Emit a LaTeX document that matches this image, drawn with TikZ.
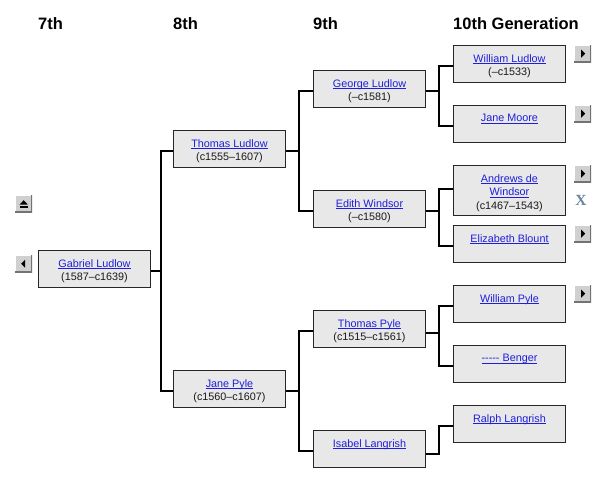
\documentclass[tikz,border=0pt]{standalone}
\usepackage{fontspec}
\setmainfont{Liberation Sans}
\newfontfamily\serifx{Liberation Serif}
\definecolor{linkblue}{RGB}{30,30,220}
\definecolor{boxfill}{RGB}{232,232,232}
\definecolor{btnfill}{RGB}{208,208,208}
\definecolor{xcol}{RGB}{104,132,160}
\newcommand\lnk[1]{{\color{linkblue}\setbox0\hbox{#1}\rlap{\rule[-1.5pt]{\wd0}{0.6pt}}\box0}}
\newcommand\person[5]{%
  \node[pbox, minimum height=#4pt] (#1) at (#2,#3) {};
  \node[ptext] (#1t) at ([yshift=-9pt]#1.north) {#5};}
\tikzset{
  pbox/.style={draw=black!85, line width=1pt, fill=boxfill, minimum width=112pt, anchor=north west, inner sep=0pt},
  ptext/.style={anchor=north, inner sep=0pt, align=center, font=\fontsize{10.8}{13.8}\selectfont, text=black!90},
  conn/.style={line width=2pt, black},
  hdr/.style={anchor=base west, inner sep=0pt, font=\fontsize{16.5}{18}\selectfont\bfseries},
  btnbase/.style={minimum size=17pt, inner sep=0pt, anchor=north west, fill=btnfill},
  btnR/.style={btnbase, path picture={
     \coordinate (c) at (path picture bounding box.center);
     \draw[white,line width=2pt] (path picture bounding box.south west) -- (path picture bounding box.north west) -- (path picture bounding box.north east);
     \draw[black!55,line width=2pt] (path picture bounding box.north east) -- (path picture bounding box.south east) -- (path picture bounding box.south west);
     \fill[black] ([shift={(-1.5,-4)}]c) -- ([shift={(-1.5,4)}]c) -- ([shift={(2.5,0)}]c) -- cycle;}},
  btnL/.style={btnbase, path picture={
     \coordinate (c) at (path picture bounding box.center);
     \draw[white,line width=2pt] (path picture bounding box.south west) -- (path picture bounding box.north west) -- (path picture bounding box.north east);
     \draw[black!55,line width=2pt] (path picture bounding box.north east) -- (path picture bounding box.south east) -- (path picture bounding box.south west);
     \fill[black] ([shift={(1.5,-4)}]c) -- ([shift={(1.5,4)}]c) -- ([shift={(-2.5,0)}]c) -- cycle;}},
  btnU/.style={btnbase, path picture={
     \coordinate (c) at (path picture bounding box.center);
     \draw[white,line width=2pt] (path picture bounding box.south west) -- (path picture bounding box.north west) -- (path picture bounding box.north east);
     \draw[black!55,line width=2pt] (path picture bounding box.north east) -- (path picture bounding box.south east) -- (path picture bounding box.south west);
     \fill[black] ([shift={(0,-3.5)}]c) -- ([shift={(4,0.8)}]c) -- ([shift={(-4,0.8)}]c) -- cycle;
     \fill[black] ([shift={(-4,2.2)}]c) rectangle ([shift={(4,4.2)}]c);}},
}
\begin{document}
\begin{tikzpicture}[x=1pt,y=-1pt]
\useasboundingbox (0,0) rectangle (611,482);
\fill[white] (0,0) rectangle (611,482);

% headers
\node[hdr] (h7) at (38,29) {7th};
\node[hdr] (h8) at (173,29) {8th};
\node[hdr] (h9) at (313,29) {9th};
\node[hdr] (h10) at (453,29) {10th Generation};

% people
\person{gab}{38}{250}{37}{\lnk{Gabriel Ludlow}\\(1587–c1639)}
\person{tl}{173}{130}{37}{\lnk{Thomas Ludlow}\\(c1555–1607)}
\person{jp}{173}{370}{37}{\lnk{Jane Pyle}\\(c1560–c1607)}
\person{gl}{313}{70}{37}{\lnk{George Ludlow}\\(–c1581)}
\person{ew}{313}{190}{37}{\lnk{Edith Windsor}\\(–c1580)}
\person{tp}{313}{310}{37}{\lnk{Thomas Pyle}\\(c1515–c1561)}
\person{il}{313}{430}{37}{\lnk{Isabel Langrish}}
\person{wl}{453}{45}{37}{\lnk{William Ludlow}\\(–c1533)}
\person{jm}{453}{105}{37}{\lnk{Jane Moore}}
\person{ad}{453}{165}{50}{\lnk{Andrews de}\\\lnk{Windsor}\\(c1467–1543)}
\person{eb}{453}{225}{37}{\lnk{Elizabeth Blount}}
\person{wp}{453}{285}{37}{\lnk{William Pyle}}
\person{bg}{453}{345}{37}{\lnk{\mbox{-}\mbox{-}\mbox{-}\mbox{-}\mbox{-} Benger}}
\person{rl}{453}{405}{37}{\lnk{Ralph Langrish}}

% connectors
\draw[conn] ([yshift=-1.5pt]gab.east) -- ++(10,0) |- ([yshift=-1.5pt]tl.west);
\draw[conn] ([yshift=-1.5pt]gab.east) -- ++(10,0) |- ([yshift=-1.5pt]jp.west);
\draw[conn] ([yshift=-1.5pt]tl.east) -- ++(13,0) |- ([yshift=-1.5pt]gl.west);
\draw[conn] ([yshift=-1.5pt]tl.east) -- ++(13,0) |- ([yshift=-1.5pt]ew.west);
\draw[conn] ([yshift=-1.5pt]jp.east) -- ++(13,0) |- ([yshift=-1.5pt]tp.west);
\draw[conn] ([yshift=-1.5pt]jp.east) -- ++(13,0) |- ([yshift=-1.5pt]il.west);
\draw[conn] ([yshift=-1.5pt]gl.east) -- ++(13,0) |- ([yshift=-1.5pt]wl.west);
\draw[conn] ([yshift=-1.5pt]gl.east) -- ++(13,0) |- ([yshift=-1.5pt]jm.west);
\draw[conn] ([yshift=-1.5pt]ew.east) -- ++(13,0) |- ([yshift=1.5pt]ad.west);
\draw[conn] ([yshift=-1.5pt]ew.east) -- ++(13,0) |- ([yshift=-1.5pt]eb.west);
\draw[conn] ([yshift=-4pt]tp.east) -- ++(13,0) |- ([yshift=-1.5pt]wp.west);
\draw[conn] ([yshift=-4pt]tp.east) -- ++(13,0) |- ([yshift=-1.5pt]bg.west);
\draw[conn] ([yshift=-5pt]il.east) -- ++(13,0) |- ([yshift=-1.5pt]rl.west);

% buttons
\node[btnR] (bwl) at (574,45) {};
\node[btnR] (bjm) at (574,105) {};
\node[btnR] (bad) at (574,165) {};
\node[btnR] (beb) at (574,225) {};
\node[btnR] (bwp) at (574,285) {};
\node[btnU] (bup) at (15,195) {};
\node[btnL] (bleft) at (15,255) {};
\node[inner sep=0pt, text=xcol, font=\serifx\bfseries\fontsize{15.5}{16}\selectfont] (xm) at (581,200) {X};
\end{tikzpicture}
\end{document}
